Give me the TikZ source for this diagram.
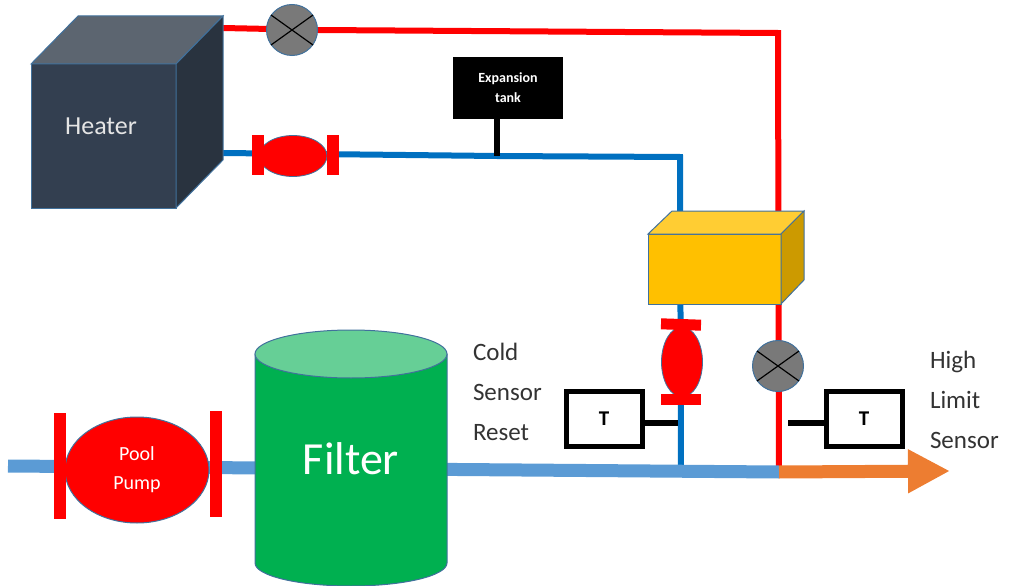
\documentclass[tikz,border=0pt]{standalone}
\usepackage{fontspec}
\setmainfont{Carlito}
\usetikzlibrary{shapes.geometric,backgrounds,arrows.meta}
\definecolor{edgeblue}{HTML}{41719C}
\definecolor{heaterfront}{HTML}{333F50}
\definecolor{heatertop}{HTML}{5C6570}
\definecolor{heaterside}{HTML}{29333F}
\definecolor{boxfront}{HTML}{FFC000}
\definecolor{boxtop}{HTML}{FFCD33}
\definecolor{boxside}{HTML}{CC9A00}
\definecolor{filtergreen}{HTML}{00B050}
\definecolor{filtertop}{HTML}{66CF96}
\definecolor{coldblue}{HTML}{0070C0}
\definecolor{mainblue}{HTML}{5B9BD5}
\definecolor{outorange}{HTML}{ED7D31}
\begin{document}
\begin{tikzpicture}[x=1pt,y=-1pt,
	every node/.style={inner sep=0,outer sep=0},
	face/.style={draw=edgeblue,line width=1pt},
	gate/.style={circle,draw=edgeblue,line width=1pt,fill=gray!95!black,minimum size=51pt},
	diaphragm/.style={ellipse,draw=edgeblue,line width=0.8pt,fill=red},
	flange/.style={rectangle,fill=red},
	sensorbox/.style={rectangle,draw=black,line width=5pt,fill=white,minimum width=76pt,minimum height=55pt,font=\fontsize{21}{21}\selectfont\bfseries},
	label/.style={align=left,anchor=west,text=black!80,font=\fontsize{25}{40}\selectfont},
	hotpipe/.style={draw=red,line width=6pt},
	coldpipe/.style={draw=coldblue,line width=6pt},
	stem/.style={draw=black,line width=6pt}]
\useasboundingbox (0,0) rectangle (1010,586);
% heater
\node[face,fill=heaterfront,minimum width=145pt,minimum height=144pt,text=white,font=\fontsize{26}{26}\selectfont] (heater) at (103.5,136) {};
\node[text=white!90!black,font=\fontsize{26}{26}\selectfont] (heatertext) at (101,126) {Heater};
\draw[face,fill=heatertop] (heater.north west) -- (78,16) -- (223,16) -- (heater.north east) -- cycle;
\draw[face,fill=heaterside] (heater.north east) -- (223,16) -- (223,160) -- (heater.south east) -- cycle;
% valves on the loop
\node[gate] (hotgate) at (292,30) {};
\node[gate] (lowgate) at (778,366) {};
\foreach \v in {hotgate,lowgate}{
	\draw[line width=1.2pt] ([shift={(-21,-15)}]\v.center) -- ([shift={(21,15)}]\v.center);
	\draw[line width=1.2pt] ([shift={(-21,15)}]\v.center) -- ([shift={(21,-15)}]\v.center);
}
\node[diaphragm,minimum width=68pt,minimum height=41pt] (heatervalve) at (293,156) {};
\node[flange,minimum width=12pt,minimum height=40pt] (heatervalveleft) at (258,155) {};
\node[flange,minimum width=12pt,minimum height=40pt] (heatervalveright) at (333,155) {};
\node[diaphragm,minimum width=41pt,minimum height=70pt] (boxvalve) at (682,362) {};
\node[flange,minimum width=40pt,minimum height=11pt,rotate=-2] (boxvalvetop) at (681,324.5) {};
\node[flange,minimum width=40pt,minimum height=11pt] (boxvalvebottom) at (681,399) {};
% expansion tank
\node[rectangle,fill=black,text=white,align=center,minimum width=110pt,minimum height=62pt,font=\fontsize{14}{20}\selectfont\bfseries] (tank) at (508,88) {Expansion\\tank};
\coordinate (tanktee) at (497,156);
% heat exchanger
\node[face,fill=boxfront,minimum width=133pt,minimum height=70pt] (exchanger) at (714.5,269) {};
\draw[face,fill=boxtop] (exchanger.north west) -- (672,211) -- (804,211) -- (exchanger.north east) -- cycle;
\draw[face,fill=boxside] (exchanger.north east) -- (804,211) -- (804,280) -- (exchanger.south east) -- cycle;
% pump and filter
\node[diaphragm,line width=1pt,draw=edgeblue,minimum width=144pt,minimum height=106pt,text=white,align=center,font=\fontsize{20}{29}\selectfont] (pump) at (137,470) {Pool\\Pump};
\node[flange,minimum width=12pt,minimum height=106pt] (pumpleft) at (60,466) {};
\node[flange,minimum width=12pt,minimum height=106pt] (pumpright) at (216,464) {};
\draw[face,fill=filtergreen] (255,354) -- (255,563) arc[start angle=180,end angle=360,x radius=96pt,y radius=23pt] -- (447,354) -- cycle;
\draw[face,fill=filtertop] (351,354) ellipse [x radius=96pt,y radius=24pt];
\node[text=white,font=\fontsize{46}{46}\selectfont] (filter) at (351,459) {Filter};
% sensors
\node[sensorbox] (coldsensor) at (604,418.5) {\raisebox{-5pt}{T}};
\node[sensorbox] (highsensor) at (864,418.5) {\raisebox{-5pt}{T}};
\node[label] (coldlabel) at (473,392) {Cold\\Sensor\\Reset};
\node[label] (highlabel) at (930,400) {High\\Limit\\Sensor};
% pipes go under everything else
\coordinate (inlet) at (8,466);
\coordinate (coldjoin) at (681,471);
\coordinate (hotjoin) at (779,472);
\coordinate (arrowtip) at (950,471);
\coordinate (hotstart) at (223,28);
\coordinate (hotmid) at (318,30);
\coordinate (hotbend) at (778,33);
\coordinate (coldstart) at (223,153);
\coordinate (coldbend) at (680,157);
\coordinate (coldtap) at (678,423);
\coordinate (hottap) at (788,423);
\begin{scope}[on background layer]
	\draw[hotpipe] (hotstart) -- (hotmid) -- (hotbend) -- (hotjoin);
	\draw[coldpipe] (coldstart) -- (tanktee) -- (coldbend) -- (coldjoin);
	\draw[line width=13pt,draw=mainblue] (inlet) -- (hotjoin);
	\draw[line width=13pt,draw=outorange,-{Triangle[length=42pt,width=41pt]}] (hotjoin) -- (arrowtip);
\end{scope}
\draw[stem] (tank.south -| tanktee) -- (tanktee);
\draw[stem] (coldsensor.east) ++(0,4.5) -- (coldtap);
\draw[stem] (highsensor.west) ++(0,4.5) -- (hottap);
\end{tikzpicture}
\end{document}
